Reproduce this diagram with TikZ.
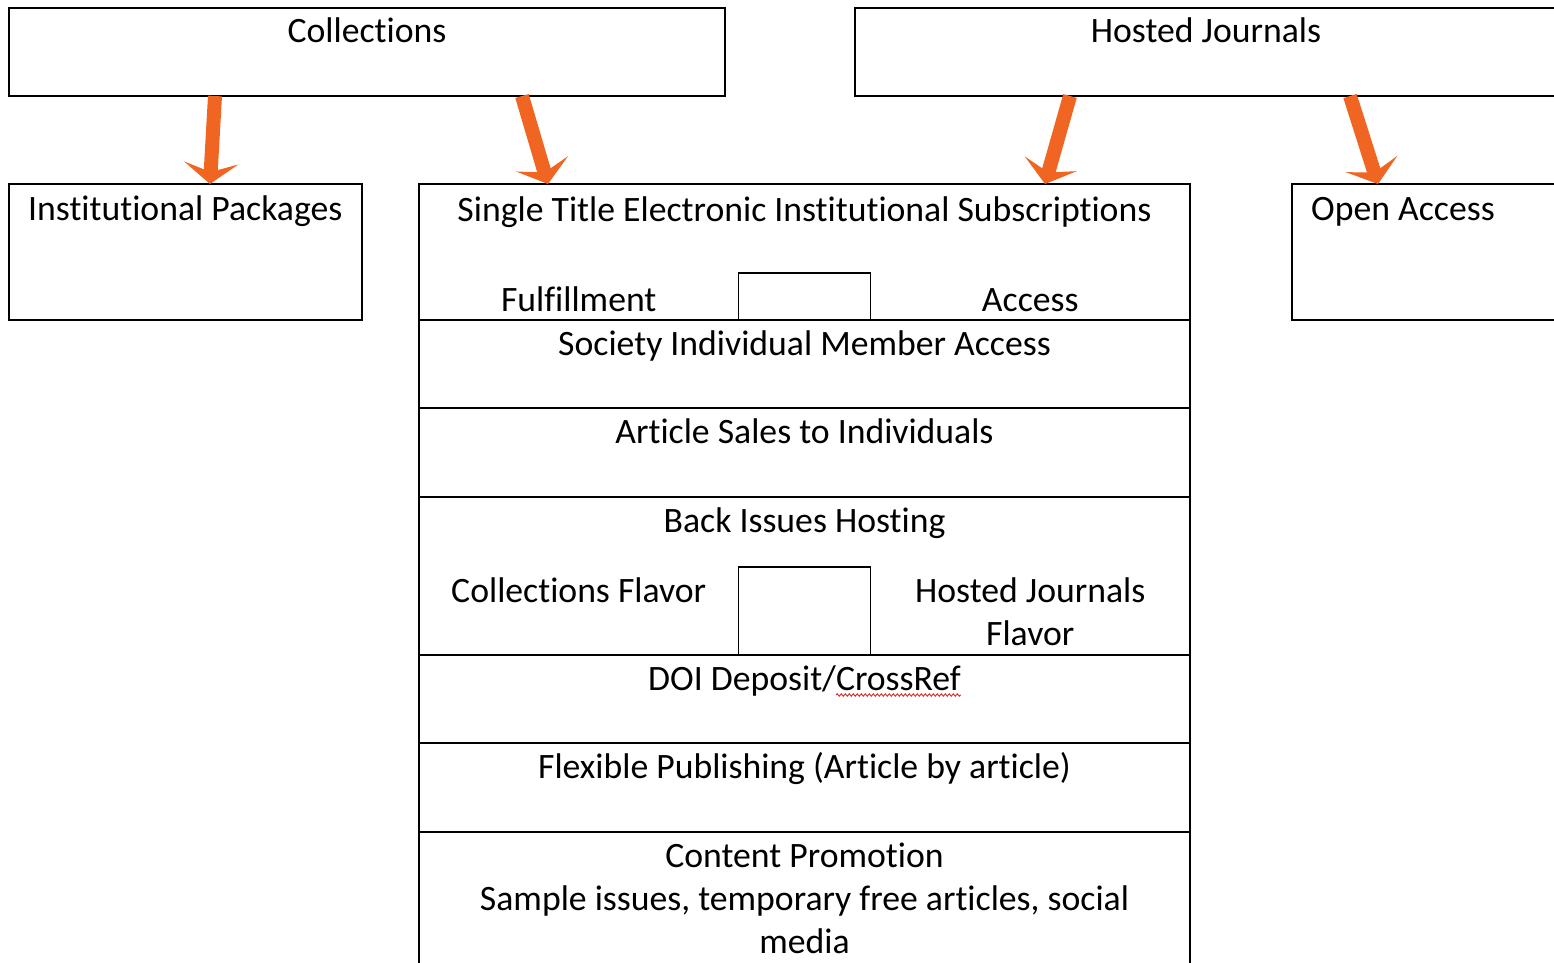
\documentclass[tikz,border=0pt]{standalone}
\usepackage{fontspec}
\setmainfont{Carlito}[Ligatures=NoCommon]
\usetikzlibrary{positioning, calc, arrows.meta, decorations.pathmorphing}

\definecolor{arroworange}{RGB}{241,101,34}
\definecolor{spellred}{RGB}{220,40,40}

\tikzset{
  box/.style={draw, line width=1.8pt, inner sep=0pt, outer sep=0pt},
  rowbox/.style={box, minimum width=771pt, minimum height=88pt, below=0pt of #1},
  txt/.style={anchor=base, inner sep=0pt},
  orarrow/.style={draw=arroworange, line width=14pt,
    -{Stealth[length=21pt, width=54pt, inset=9pt, fill=arroworange]}},
}

\begin{document}
\begin{tikzpicture}[x=1pt, y=-1pt, font=\fontsize{35.7pt}{43pt}\selectfont]

    \useasboundingbox (0,0) rectangle (1554,962);

    \node[box, anchor=north west, minimum width=716pt, minimum height=88pt] (collections) at (9,8) {};
    \node[txt] (collectionsL) at ([yshift=-34pt]collections.north) {Collections};

    \node[box, anchor=north west, minimum width=702pt, minimum height=88pt] (hosted) at (855,8) {};
    \node[txt] (hostedL) at ([yshift=-34pt]hosted.north) {Hosted Journals};

    % ----------

    \node[box, anchor=north west, minimum width=353pt, minimum height=136pt] (packages) at (9,184) {};
    \node[txt, anchor=base west] (packagesL) at ([xshift=19pt, yshift=-36pt]packages.north west) {Institutional Packages};

    \node[box, anchor=north west, minimum width=265pt, minimum height=136pt] (openaccess) at (1292,184) {};
    \node[txt, anchor=base west] (openaccessL) at ([xshift=19pt, yshift=-36pt]openaccess.north west) {Open Access};

    % ----------

    \node[box, anchor=north west, minimum width=771pt, minimum height=136pt] (single) at (419,184) {};
    \node[txt] (singleL) at ([yshift=-37pt]single.north) {Single Title Electronic Institutional Subscriptions};
    \node[box, anchor=south, minimum width=132pt, minimum height=47pt] (singlegap) at (single.south) {};
    \node[txt] (fulfillment) at ([yshift=9pt]$(single.south west)!0.5!(singlegap.south west)$) {Fulfillment};
    \node[txt] (access) at ([yshift=9pt]$(singlegap.south east)!0.5!(single.south east)$) {Access};

    \node[rowbox=single] (society) {};
    \node[txt] (societyL) at ([yshift=-35pt]society.north) {Society Individual Member Access};

    \node[rowbox=society, minimum height=89pt] (sales) {};
    \node[txt] (salesL) at ([yshift=-35pt]sales.north) {Article Sales to Individuals};

    \node[rowbox=sales, minimum height=158pt] (backissues) {};
    \node[txt] (backissuesL) at ([yshift=-35pt]backissues.north) {Back Issues Hosting};
    \node[box, anchor=south, minimum width=132pt, minimum height=88pt] (backgap) at (backissues.south) {};
    \node[txt] (collflavor) at ([yshift=53pt]$(backissues.south west)!0.5!(backgap.south west)$) {Collections Flavor};
    \node[txt] (hostflavor) at ([yshift=53pt]$(backgap.south east)!0.5!(backissues.south east)$) {
    \begin{tabular}[t]{@{}c@{}}
    Hosted Journals\\
    Flavor
    \end{tabular}
    };

    \node[rowbox=backissues] (doi) {};
    \node[txt] (doiL) at ([yshift=-35pt]doi.north) {DOI Deposit/CrossRef};
    \draw[spellred, line width=0.9pt, decorate, decoration={snake, amplitude=1.2pt, segment length=4pt}]
      ([xshift=-125pt, yshift=-5pt]doiL.base east) -- ([yshift=-5pt]doiL.base east);

    \node[rowbox=doi, minimum height=89pt] (flexible) {};
    \node[txt] (flexibleL) at ([yshift=-35pt]flexible.north) {Flexible Publishing (Article by article)};

    \node[rowbox=flexible, minimum height=160pt] (promotion) {};
    \node[txt] (promotionL) at ([yshift=-35pt]promotion.north) {
    \begin{tabular}[t]{@{}c@{}}
    Content Promotion\\
    Sample issues, temporary free articles, social\\
    media
    \end{tabular}
    };

    % -------

    \draw[orarrow] ([xshift=206pt]collections.south west) -- ([xshift=201pt]packages.north west);
    \draw[orarrow] ([xshift=513pt]collections.south west) -- ([xshift=129pt]single.north west);
    \draw[orarrow] ([xshift=215pt]hosted.south west) -- ([xshift=626pt]single.north west);
    \draw[orarrow] ([xshift=495pt]hosted.south west) -- ([xshift=86pt]openaccess.north west);

\end{tikzpicture}
\end{document}
